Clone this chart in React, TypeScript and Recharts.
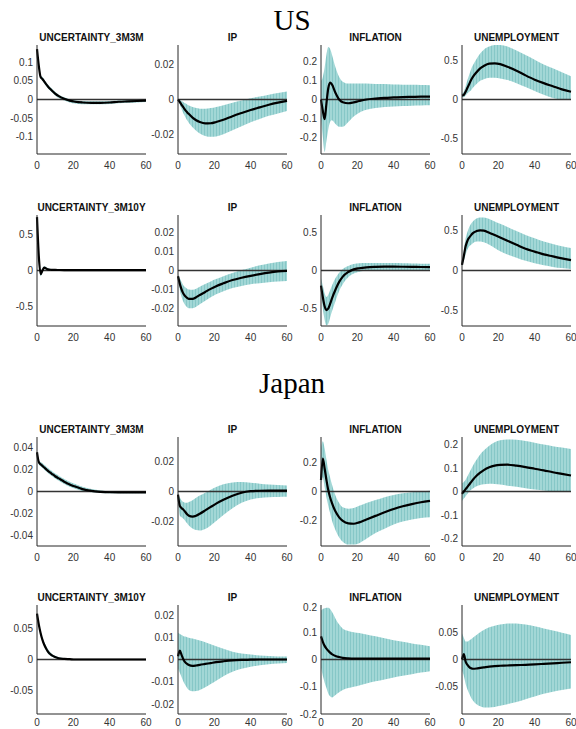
import React from 'react';
import { ComposedChart, Area, Line, XAxis, YAxis, ReferenceLine } from 'recharts';

const horizons = [0, 1, 2, 3, 4, 5, 6, 8, 10, 12, 15, 18, 21, 25, 30, 35, 40, 45, 50, 55, 60];

// ---- US, shock = UNCERTAINTY_3M3M ----
const usA_unc = [0.135, 0.09, 0.06, 0.055, 0.048, 0.041, 0.035, 0.025, 0.016, 0.009, 0.002, -0.003, -0.006, -0.008, -0.009, -0.009, -0.008, -0.006, -0.005, -0.004, -0.003];
const usA_uncHi = [0.137, 0.093, 0.064, 0.06, 0.053, 0.046, 0.04, 0.03, 0.021, 0.013, 0.006, 0.001, -0.002, -0.004, -0.005, -0.005, -0.004, -0.003, -0.002, -0.001, 0];
const usA_uncLo = [0.133, 0.087, 0.056, 0.05, 0.043, 0.036, 0.03, 0.02, 0.011, 0.004, -0.003, -0.008, -0.011, -0.013, -0.013, -0.013, -0.012, -0.01, -0.009, -0.008, -0.007];
const usA_ip = [0, -0.0015, -0.003, -0.0045, -0.006, -0.0072, -0.0083, -0.0103, -0.0118, -0.0128, -0.0136, -0.0135, -0.0128, -0.0115, -0.0095, -0.0077, -0.006, -0.0045, -0.003, -0.0018, -0.0008];
const usA_ipHi = [0, -0.0003, -0.0008, -0.0015, -0.0022, -0.0028, -0.0034, -0.0043, -0.0049, -0.0052, -0.0053, -0.0049, -0.0042, -0.0032, -0.0018, -0.0005, 0.0007, 0.0017, 0.0027, 0.0037, 0.0045];
const usA_ipLo = [0, -0.003, -0.0055, -0.008, -0.01, -0.0118, -0.0133, -0.0158, -0.0178, -0.0193, -0.0207, -0.0212, -0.021, -0.0198, -0.0175, -0.0152, -0.013, -0.0111, -0.0093, -0.0079, -0.0065];
const usA_inf = [0, -0.06, -0.105, -0.02, 0.06, 0.09, 0.08, 0.035, 0, -0.015, -0.02, -0.015, -0.008, 0, 0.005, 0.009, 0.011, 0.013, 0.014, 0.015, 0.015];
const usA_infHi = [0.1, 0.12, 0.17, 0.24, 0.28, 0.27, 0.24, 0.17, 0.12, 0.095, 0.085, 0.085, 0.085, 0.085, 0.083, 0.082, 0.08, 0.079, 0.078, 0.077, 0.076];
const usA_infLo = [-0.1, -0.2, -0.28, -0.22, -0.16, -0.12, -0.11, -0.13, -0.145, -0.145, -0.12, -0.09, -0.07, -0.055, -0.045, -0.04, -0.037, -0.035, -0.033, -0.032, -0.031];
const usA_un = [0.05, 0.06, 0.1, 0.15, 0.2, 0.25, 0.29, 0.35, 0.4, 0.43, 0.46, 0.465, 0.455, 0.42, 0.37, 0.31, 0.255, 0.21, 0.17, 0.13, 0.1];
const usA_unHi = [0.08, 0.1, 0.17, 0.25, 0.32, 0.39, 0.44, 0.52, 0.59, 0.64, 0.68, 0.7, 0.7, 0.68, 0.63, 0.57, 0.51, 0.45, 0.4, 0.35, 0.3];
const usA_unLo = [0.03, 0.03, 0.05, 0.08, 0.1, 0.12, 0.15, 0.2, 0.24, 0.26, 0.28, 0.28, 0.27, 0.25, 0.21, 0.16, 0.11, 0.06, 0.02, 0, -0.005];

// ---- US, shock = UNCERTAINTY_3M10Y ----
const usB_unc = [0.75, 0.2, -0.05, 0, 0.04, 0.03, 0.015, 0.01, 0.008, 0.007, 0.006, 0.006, 0.005, 0.005, 0.005, 0.005, 0.005, 0.005, 0.005, 0.005, 0.005];
const usB_uncHi = [0.76, 0.23, -0.02, 0.03, 0.06, 0.05, 0.03, 0.02, 0.015, 0.013, 0.012, 0.011, 0.01, 0.01, 0.01, 0.01, 0.01, 0.01, 0.01, 0.01, 0.01];
const usB_uncLo = [0.74, 0.17, -0.08, -0.03, 0.02, 0.01, 0, 0, 0, 0, 0, 0, 0, 0, 0, 0, 0, 0, 0, 0, 0];
const usB_ip = [-0.003, -0.007, -0.01, -0.0122, -0.0135, -0.0143, -0.0148, -0.0148, -0.014, -0.0128, -0.0112, -0.0096, -0.0082, -0.0067, -0.005, -0.0038, -0.0028, -0.0019, -0.0011, -0.0005, -0.0002];
const usB_ipHi = [-0.002, -0.004, -0.006, -0.0078, -0.0088, -0.0095, -0.0099, -0.01, -0.0095, -0.0085, -0.0071, -0.0057, -0.0045, -0.003, -0.0013, 0.0002, 0.0015, 0.0027, 0.0037, 0.0045, 0.005];
const usB_ipLo = [-0.004, -0.01, -0.014, -0.0165, -0.0182, -0.0192, -0.0197, -0.0197, -0.019, -0.0177, -0.0158, -0.014, -0.0124, -0.0108, -0.0092, -0.0081, -0.0072, -0.0066, -0.0061, -0.0058, -0.0055];
const usB_inf = [-0.2, -0.35, -0.47, -0.52, -0.5, -0.44, -0.37, -0.25, -0.15, -0.08, -0.02, 0.015, 0.03, 0.042, 0.048, 0.05, 0.05, 0.049, 0.048, 0.046, 0.045];
const usB_infHi = [-0.1, -0.2, -0.3, -0.35, -0.32, -0.26, -0.2, -0.1, -0.03, 0.02, 0.06, 0.085, 0.095, 0.1, 0.1, 0.1, 0.098, 0.095, 0.093, 0.09, 0.088];
const usB_infLo = [-0.3, -0.5, -0.65, -0.72, -0.7, -0.62, -0.54, -0.4, -0.27, -0.18, -0.09, -0.04, -0.015, 0, 0.005, 0.005, 0.005, 0.003, 0.002, 0, 0];
const usB_un = [0.07, 0.18, 0.3, 0.37, 0.41, 0.44, 0.465, 0.49, 0.5, 0.495, 0.47, 0.44, 0.41, 0.37, 0.32, 0.27, 0.235, 0.2, 0.175, 0.15, 0.13];
const usB_unHi = [0.09, 0.25, 0.4, 0.48, 0.54, 0.58, 0.61, 0.645, 0.66, 0.66, 0.64, 0.61, 0.58, 0.54, 0.49, 0.44, 0.4, 0.36, 0.33, 0.3, 0.28];
const usB_unLo = [0.05, 0.12, 0.2, 0.26, 0.3, 0.32, 0.34, 0.36, 0.36, 0.35, 0.32, 0.28, 0.24, 0.2, 0.16, 0.12, 0.09, 0.065, 0.045, 0.03, 0.02];

// ---- Japan, shock = UNCERTAINTY_3M3M ----
const jpA_unc = [0.036, 0.027, 0.025, 0.0235, 0.022, 0.0205, 0.019, 0.0165, 0.014, 0.012, 0.009, 0.0065, 0.0045, 0.0022, 0.0005, -0.0003, -0.0007, -0.0008, -0.0008, -0.0008, -0.0008];
const jpA_uncHi = [0.037, 0.029, 0.027, 0.026, 0.0245, 0.023, 0.0215, 0.019, 0.0165, 0.0145, 0.0115, 0.009, 0.0068, 0.0043, 0.0022, 0.001, 0.0003, 0, -0.0002, -0.0003, -0.0003];
const jpA_uncLo = [0.035, 0.025, 0.023, 0.0215, 0.02, 0.0185, 0.017, 0.0145, 0.012, 0.0098, 0.0068, 0.0043, 0.0025, 0.0005, -0.0008, -0.0013, -0.0015, -0.0016, -0.0016, -0.0016, -0.0016];
const jpA_ip = [-0.002, -0.0095, -0.011, -0.012, -0.0135, -0.015, -0.016, -0.0166, -0.016, -0.0147, -0.0125, -0.0102, -0.008, -0.0055, -0.0028, -0.0008, 0.0002, 0.0005, 0.0006, 0.0006, 0.0006];
const jpA_ipHi = [-0.001, -0.004, -0.006, -0.007, -0.0075, -0.0075, -0.007, -0.0058, -0.0042, -0.0027, -0.0008, 0.0012, 0.003, 0.0048, 0.006, 0.0062, 0.0058, 0.0052, 0.0047, 0.0043, 0.004];
const jpA_ipLo = [-0.003, -0.016, -0.017, -0.018, -0.0195, -0.021, -0.0225, -0.0245, -0.0255, -0.0258, -0.0248, -0.0225, -0.0195, -0.0155, -0.011, -0.0075, -0.0053, -0.0043, -0.0038, -0.0036, -0.0035];
const jpA_inf = [0.08, 0.23, 0.16, 0.08, 0.01, -0.04, -0.08, -0.14, -0.18, -0.205, -0.222, -0.225, -0.215, -0.195, -0.17, -0.145, -0.122, -0.103, -0.088, -0.075, -0.065];
const jpA_infHi = [0.3, 0.35, 0.3, 0.22, 0.15, 0.1, 0.05, -0.03, -0.08, -0.11, -0.12, -0.115, -0.1, -0.08, -0.06, -0.04, -0.025, -0.012, -0.005, 0, 0.005];
const jpA_infLo = [0.05, 0.1, 0.03, -0.04, -0.1, -0.15, -0.2, -0.27, -0.32, -0.35, -0.37, -0.37, -0.36, -0.33, -0.29, -0.26, -0.23, -0.21, -0.195, -0.185, -0.18];
const jpA_un = [-0.01, 0, 0.01, 0.02, 0.03, 0.04, 0.05, 0.067, 0.08, 0.091, 0.103, 0.11, 0.113, 0.114, 0.11, 0.104, 0.097, 0.09, 0.082, 0.075, 0.068];
const jpA_unHi = [0.035, 0.04, 0.05, 0.065, 0.08, 0.095, 0.11, 0.135, 0.158, 0.175, 0.195, 0.21, 0.218, 0.221, 0.22, 0.215, 0.208, 0.2, 0.193, 0.187, 0.181];
const jpA_unLo = [-0.04, -0.03, -0.02, -0.01, 0, 0.007, 0.013, 0.022, 0.028, 0.031, 0.033, 0.032, 0.03, 0.025, 0.02, 0.014, 0.008, 0.004, 0.001, 0, 0];

// ---- Japan, shock = UNCERTAINTY_3M10Y ----
const jpB_unc = [0.075, 0.057, 0.043, 0.032, 0.024, 0.018, 0.013, 0.007, 0.004, 0.002, 0.001, 0.0005, 0, 0, 0, 0, 0, 0, 0, 0, 0];
const jpB_uncHi = [0.076, 0.059, 0.046, 0.036, 0.028, 0.022, 0.017, 0.01, 0.006, 0.0035, 0.002, 0.001, 0.0005, 0.0003, 0.0002, 0.0002, 0.0002, 0.0002, 0.0002, 0.0002, 0.0002];
const jpB_uncLo = [0.074, 0.055, 0.04, 0.029, 0.021, 0.015, 0.01, 0.005, 0.002, 0.001, 0, -0.0003, -0.0003, -0.0003, -0.0003, -0.0003, -0.0003, -0.0003, -0.0003, -0.0003, -0.0003];
const jpB_ip = [0.0015, 0.004, 0.002, 0, -0.0013, -0.002, -0.0025, -0.0029, -0.0027, -0.0024, -0.002, -0.0016, -0.0012, -0.0008, -0.0004, -0.0002, -0.0001, 0, 0, 0, 0];
const jpB_ipHi = [0.012, 0.0115, 0.011, 0.0105, 0.0103, 0.01, 0.0098, 0.0094, 0.009, 0.0085, 0.0077, 0.0068, 0.006, 0.0048, 0.0035, 0.0027, 0.0022, 0.0018, 0.0016, 0.0014, 0.0013];
const jpB_ipLo = [-0.004, -0.006, -0.008, -0.01, -0.0115, -0.0128, -0.0137, -0.0143, -0.0142, -0.0137, -0.0125, -0.011, -0.0095, -0.0075, -0.0055, -0.0042, -0.0033, -0.0026, -0.0021, -0.0018, -0.0016];
const jpB_inf = [0.085, 0.065, 0.05, 0.04, 0.032, 0.025, 0.02, 0.013, 0.009, 0.006, 0.004, 0.003, 0.003, 0.003, 0.003, 0.003, 0.003, 0.003, 0.003, 0.003, 0.003];
const jpB_infHi = [0.18, 0.185, 0.188, 0.19, 0.19, 0.185, 0.175, 0.15, 0.128, 0.113, 0.105, 0.1, 0.097, 0.092, 0.085, 0.078, 0.071, 0.065, 0.059, 0.054, 0.049];
const jpB_infLo = [-0.03, -0.06, -0.085, -0.105, -0.125, -0.135, -0.139, -0.13, -0.12, -0.112, -0.105, -0.1, -0.095, -0.088, -0.08, -0.073, -0.066, -0.06, -0.054, -0.048, -0.043];
const jpB_un = [0, 0.01, -0.004, -0.01, -0.014, -0.016, -0.017, -0.0165, -0.0155, -0.0145, -0.013, -0.012, -0.0115, -0.011, -0.0105, -0.0097, -0.009, -0.008, -0.007, -0.006, -0.005];
const jpB_unHi = [0.048, 0.04, 0.033, 0.033, 0.035, 0.037, 0.04, 0.045, 0.05, 0.054, 0.059, 0.062, 0.064, 0.066, 0.066, 0.064, 0.061, 0.057, 0.053, 0.049, 0.045];
const jpB_unLo = [-0.02, -0.03, -0.045, -0.055, -0.063, -0.07, -0.075, -0.082, -0.086, -0.088, -0.088, -0.087, -0.085, -0.082, -0.078, -0.073, -0.068, -0.063, -0.059, -0.056, -0.053];

const titlesA = ['UNCERTAINTY_3M3M', 'IP', 'INFLATION', 'UNEMPLOYMENT'];
const titlesB = ['UNCERTAINTY_3M10Y', 'IP', 'INFLATION', 'UNEMPLOYMENT'];

type Panel = {
  title: string;
  med: number[];
  hi: number[];
  lo: number[];
  domain: [number, number];
  ticks: number[];
};

const rows: Panel[][] = [
  [
    { title: titlesA[0], med: usA_unc, hi: usA_uncHi, lo: usA_uncLo, domain: [-0.146, 0.146], ticks: [-0.1, -0.05, 0, 0.05, 0.1] },
    { title: titlesA[1], med: usA_ip, hi: usA_ipHi, lo: usA_ipLo, domain: [-0.031, 0.031], ticks: [-0.02, 0, 0.02] },
    { title: titlesA[2], med: usA_inf, hi: usA_infHi, lo: usA_infLo, domain: [-0.29, 0.29], ticks: [-0.2, -0.1, 0, 0.1, 0.2] },
    { title: titlesA[3], med: usA_un, hi: usA_unHi, lo: usA_unLo, domain: [-0.7, 0.7], ticks: [-0.5, 0, 0.5] },
  ],
  [
    { title: titlesB[0], med: usB_unc, hi: usB_uncHi, lo: usB_uncLo, domain: [-0.78, 0.78], ticks: [-0.5, 0, 0.5] },
    { title: titlesB[1], med: usB_ip, hi: usB_ipHi, lo: usB_ipLo, domain: [-0.029, 0.029], ticks: [-0.02, -0.01, 0, 0.01, 0.02] },
    { title: titlesB[2], med: usB_inf, hi: usB_infHi, lo: usB_infLo, domain: [-0.73, 0.73], ticks: [-0.5, 0, 0.5] },
    { title: titlesB[3], med: usB_un, hi: usB_unHi, lo: usB_unLo, domain: [-0.69, 0.69], ticks: [-0.5, 0, 0.5] },
  ],
  [
    { title: titlesA[0], med: jpA_unc, hi: jpA_uncHi, lo: jpA_uncLo, domain: [-0.05, 0.05], ticks: [-0.04, -0.02, 0, 0.02, 0.04] },
    { title: titlesA[1], med: jpA_ip, hi: jpA_ipHi, lo: jpA_ipLo, domain: [-0.036, 0.036], ticks: [-0.02, 0, 0.02] },
    { title: titlesA[2], med: jpA_inf, hi: jpA_infHi, lo: jpA_infLo, domain: [-0.38, 0.38], ticks: [-0.2, 0, 0.2] },
    { title: titlesA[3], med: jpA_un, hi: jpA_unHi, lo: jpA_unLo, domain: [-0.232, 0.232], ticks: [-0.2, -0.1, 0, 0.1, 0.2] },
  ],
  [
    { title: titlesB[0], med: jpB_unc, hi: jpB_uncHi, lo: jpB_uncLo, domain: [-0.089, 0.089], ticks: [-0.05, 0, 0.05] },
    { title: titlesB[1], med: jpB_ip, hi: jpB_ipHi, lo: jpB_ipLo, domain: [-0.0245, 0.0245], ticks: [-0.02, -0.01, 0, 0.01, 0.02] },
    { title: titlesB[2], med: jpB_inf, hi: jpB_infHi, lo: jpB_infLo, domain: [-0.2, 0.2], ticks: [-0.2, -0.1, 0, 0.1, 0.2] },
    { title: titlesB[3], med: jpB_un, hi: jpB_unHi, lo: jpB_unLo, domain: [-0.1, 0.1], ticks: [-0.05, 0, 0.05] },
  ],
];

const colLeft = [37, 178, 321, 462];
const rowTop = [45, 215, 437, 605];
const rowHeight = [109, 111, 109, 109];
const rowTickGap = [6, 6, 6, 3];
const plotW = 109;
const yAxisW = 40;
const padTop = 3;
const xAxisH = 20;
const padRight = 10;

const fmt = (v: number) => (v === 0 ? '0' : String(v));

function IrfPanel({ p, id, left, top, h, gap }: { p: Panel; id: string; left: number; top: number; h: number; gap: number }) {
  const data = horizons.map((x, i) => ({ x, med: p.med[i], band: [p.lo[i], p.hi[i]] }));
  return (
    <>
      <div
        style={{
          position: 'absolute',
          left,
          width: plotW,
          top: top - 13,
          textAlign: 'center',
          fontSize: 10,
          fontWeight: 700,
          lineHeight: '12px',
          color: '#111',
          whiteSpace: 'nowrap',
        }}
      >
        {p.title}
      </div>
      <div style={{ position: 'absolute', left: left - yAxisW, top: top - padTop }}>
        <ComposedChart
          width={yAxisW + plotW + padRight}
          height={padTop + h + xAxisH}
          data={data}
          margin={{ top: padTop, right: padRight, bottom: 0, left: 0 }}
        >
          <defs>
            <pattern id={id} width="3" height="4" patternUnits="userSpaceOnUse">
              <rect width="3" height="4" fill="#a2d7d6" />
              <rect width="1" height="4" fill="#86c7c7" />
            </pattern>
          </defs>
          <XAxis
            dataKey="x"
            type="number"
            domain={[0, 60]}
            ticks={[0, 20, 40, 60]}
            height={xAxisH}
            tickLine={false}
            tickSize={2}
            tickMargin={gap}
            axisLine={{ stroke: '#262626', strokeWidth: 1 }}
            tick={{ fontSize: 10, fill: '#333', fontFamily: 'Liberation Sans, Arial, sans-serif' }}
          />
          <YAxis
            type="number"
            domain={p.domain}
            ticks={p.ticks}
            allowDataOverflow
            width={yAxisW}
            tickLine={false}
            tickSize={2}
            tickMargin={2}
            tickFormatter={fmt}
            axisLine={{ stroke: '#262626', strokeWidth: 1 }}
            tick={{ fontSize: 10, fill: '#333', fontFamily: 'Liberation Sans, Arial, sans-serif' }}
          />
          <Area
            type="monotone"
            dataKey="band"
            stroke="none"
            fill={`url(#${id})`}
            fillOpacity={1}
            isAnimationActive={false}
          />
          <ReferenceLine y={0} stroke="#333" strokeWidth={1.5} />
          <Line
            type="monotone"
            dataKey="med"
            stroke="#000"
            strokeWidth={2.2}
            dot={false}
            isAnimationActive={false}
          />
        </ComposedChart>
      </div>
    </>
  );
}

export default function App() {
  return (
    <div
      style={{
        position: 'absolute',
        left: 0,
        top: 0,
        width: 576,
        height: 729,
        overflow: 'hidden',
        background: '#fff',
        fontFamily: 'Liberation Sans, Arial, sans-serif',
      }}
    >
      <div
        style={{
          position: 'absolute',
          left: 0,
          width: 584,
          top: 3,
          textAlign: 'center',
          fontFamily: 'Liberation Serif, serif',
          fontSize: 29,
          lineHeight: '34px',
        }}
      >
        US
      </div>
      <div
        style={{
          position: 'absolute',
          left: 0,
          width: 584,
          top: 366,
          textAlign: 'center',
          fontFamily: 'Liberation Serif, serif',
          fontSize: 29,
          lineHeight: '34px',
        }}
      >
        Japan
      </div>
      {rows.map((row, r) =>
        row.map((p, c) => (
          <IrfPanel
            key={`${r}-${c}`}
            p={p}
            id={`band-${r}-${c}`}
            left={colLeft[c]}
            top={rowTop[r]}
            h={rowHeight[r]}
            gap={rowTickGap[r]}
          />
        ))
      )}
    </div>
  );
}
